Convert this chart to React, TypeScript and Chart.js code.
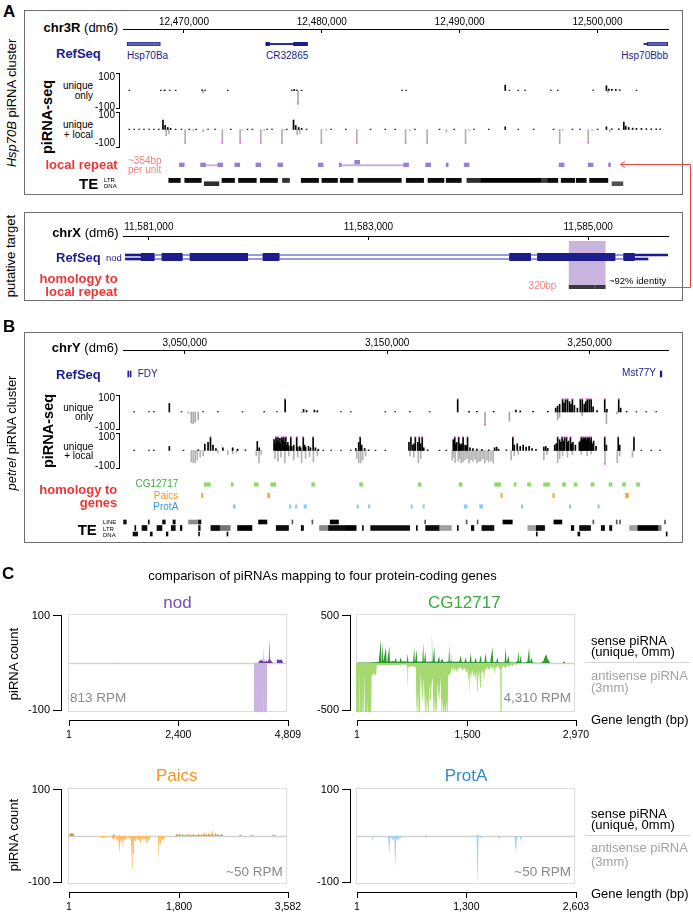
import React, { useEffect, useRef } from 'react';
import { Chart, registerables } from 'chart.js';

Chart.register(...registerables);
const FONT = "'Liberation Sans', Arial, Helvetica, sans-serif";
Chart.defaults.font.family = FONT;

const W = 693;
const NAVY = '#1c1c8c';
const RED = '#ee3535';
const PINK = '#f47f7f';
const MAGENTA = '#e050e0';
const GRAYTXT = '#8a8a8a';

// ================= Panel A : chr3R (positions in kb) =================
const A_RANGE = [12465.58, 12505.12];
const A_TICKS = [12470, 12480, 12490, 12500];
const A_GENE_LINES = [[12475.95, 12477.95], [12503.37, 12503.6]];
const A_GENE_EXONS = [[12475.95, 12476.21], [12477.95, 12478.97]];
const A_GENE_HSP = [[12465.87, 12468.29], [12503.6, 12505.11]];
const TRACK_LIMITS = [-100, 100];

const A_UO_SENSE = [[12465.75,3],[12468.07,3],[12468.36,4],[12468.72,3],[12469.16,3],[12471.11,5],[12471.33,3],[12473.0,3],[12477.71,4],[12477.89,8],[12478.07,4],[12478.44,3],[12485.84,3],[12486.13,3],[12493.43,40],[12493.74,3],[12494.39,3],[12494.9,3],[12496.79,3],[12497.3,3],[12499.9,3],[12500.88,35],[12501.06,10],[12501.28,8],[12501.57,8],[12501.86,5],[12503.09,3]];
const A_UO_ANTI = [[12468.29,-4],[12471.19,-18],[12478.17,-130],[12500.99,-15]];

const A_UL_SENSE = [[12465.75,3],[12466.11,3],[12466.47,3],[12466.83,3],[12467.2,3],[12467.56,3],[12467.92,3],[12468.23,70],[12468.39,30],[12468.58,15],[12468.79,8],[12469.16,3],[12469.59,3],[12470.17,3],[12470.68,3],[12471.55,3],[12472.06,3],[12473.22,3],[12474.45,3],[12474.81,3],[12475.9,3],[12476.26,3],[12477.35,3],[12477.84,70],[12478.0,30],[12478.22,15],[12478.44,8],[12478.8,3],[12480.61,3],[12481.7,3],[12483.51,3],[12484.6,3],[12485.33,3],[12486.78,3],[12488.59,3],[12489.68,3],[12491.13,3],[12492.22,3],[12493.43,20],[12494.39,3],[12495.53,3],[12496.98,3],[12498.38,3],[12498.93,3],[12500.23,3],[12500.88,20],[12501.28,5],[12501.79,5],[12502.16,55],[12502.3,25],[12502.52,15],[12502.81,10],[12503.09,8],[12503.46,8],[12503.82,6],[12504.18,5],[12504.55,5],[12504.84,4]];
const A_UL_ANTI = [[12468.46,-45],[12468.66,-30],[12469.86,-130],[12470.46,-6],[12471.19,-15],[12472.6,-130],[12473.91,-130],[12474.09,-6],[12475.43,-130],[12475.68,-6],[12476.99,-130],[12477.2,-6],[12478.11,-40],[12478.29,-30],[12479.89,-130],[12480.25,-6],[12482.5,-130],[12486.09,-130],[12486.41,-6],[12487.68,-130],[12489.1,-20],[12490.51,-130],[12490.77,-6],[12497.44,-130],[12497.66,-6],[12499.54,-130],[12499.83,-6],[12501.13,-20]];

const A_REPEAT_MAIN = [[12469.67,12470.02],[12471.21,12471.57],[12472.46,12472.81],[12473.69,12474.05],[12475.22,12475.57],[12476.81,12477.16],[12479.75,12480.1],[12481.27,12481.41],[12485.95,12486.3],[12487.54,12487.9],[12489.03,12489.17],[12490.33,12490.69],[12497.22,12497.58],[12499.33,12499.68],[12500.81,12500.95]];
const A_REPEAT_UPPER = [[12482.39,12482.75]];
const A_REPEAT_LINKS = [[12471.57,12472.46],[12481.41,12485.95]];

// TE blocks: [start, end, score]
const A_TE_LTR = [[12468.9,12469.74,950],[12470.06,12471.26,950],[12472.76,12473.67,950],[12473.96,12475.25,950],[12475.54,12476.79,950],[12477.15,12477.66,780],[12478.51,12479.77,950],[12480.01,12481.14,950],[12481.34,12482.28,950],[12482.63,12485.77,950],[12486.13,12487.39,950],[12487.71,12488.87,950],[12489.03,12490.12,950],[12490.53,12491.56,800],[12491.56,12495.92,1000],[12495.92,12496.41,750],[12496.41,12497.13,950],[12497.37,12498.35,950],[12498.46,12499.19,950],[12499.43,12500.76,950]];
const A_TE_DNA = [[12471.48,12472.54,800],[12501.06,12501.85,650]];

// ================= Panel A2 : chrX (bp) =================
const X_RANGE = [11580765, 11585727];
const X_TICKS = [11581000, 11583000, 11585000];
const NOD_T1 = [11580786, 11585727];
const NOD_T2 = [11580786, 11585545];
const NOD_EXONS = [[11580931,11581049],[11581120,11581304],[11581376,11581900],[11582040,11582186],[11584285,11584476],[11584539,11585244],[11585324,11585420]];
const NOD_HOMOLOGY = [[11584827,11585058],[11585067,11585155]];

// ================= Panel B : chrY (kb) =================
const B_RANGE = [3019.48, 3288.75];
const B_TICKS = [3050, 3150, 3250];
const B_GENES = [[3021.85,3022.15],[3023.0,3023.3],[3284.9,3285.7]];

const B_UO_SENSE = [[3023.08,3],[3030.49,3],[3032.96,3],[3040.71,66],[3046.79,3],[3057.65,3],[3065.06,3],[3077.4,3],[3088.27,3],[3094.69,3],[3098.78,130],[3108.02,20],[3109.5,12],[3113.45,15],[3114.93,10],[3126.78,3],[3131.72,3],[3149.0,3],[3153.94,3],[3161.35,3],[3171.23,3],[3185.3,110],[3190.98,5],[3194.93,5],[3203.32,5],[3214.53,15],[3216.65,8],[3223.07,5],[3230.48,5],[3234.43,30],[3235.4,45],[3236.41,60],[3237.89,100],[3238.6,70],[3239.37,100],[3240.36,130],[3241.35,80],[3242.1,60],[3242.83,100],[3243.82,50],[3245.31,30],[3246.79,100],[3247.78,130],[3248.77,60],[3249.5,80],[3250.24,130],[3251.23,130],[3252.22,100],[3253.2,40],[3255.18,10],[3259.03,130],[3260.12,20],[3266.04,110],[3267.03,30],[3270.0,5],[3274.93,3],[3279.87,3],[3284.81,3]];
const B_UO_ANTI = [[3050.25,-10],[3051.73,-85],[3052.72,-90],[3053.7,-80],[3055.18,-60],[3107.03,-5],[3190.98,-5],[3199.01,-130],[3211.23,-70],[3235.42,-60],[3236.41,-40],[3247.78,-30],[3259.87,-90],[3265.05,-15]];

const B_UL_SENSE = [[3023.08,3],[3030.49,3],[3032.96,3],[3040.71,30],[3047.78,3],[3055.18,5],[3058.49,48],[3060.12,60],[3061.35,130],[3062.59,40],[3064.07,15],[3067.53,20],[3072.46,20],[3074.93,10],[3078.88,5],[3084.81,67],[3085.8,20],
[3093.21,80],[3093.7,50],[3094.19,100],[3094.69,70],[3095.18,130],[3095.68,60],[3096.17,90],[3096.66,50],[3097.16,130],[3097.65,80],[3098.15,100],[3098.64,60],[3099.13,130],[3099.62,40],[3100.12,60],[3100.61,35],[3101.6,100],[3102.1,30],[3103.08,40],[3104.56,130],[3105.05,25],[3106.04,30],[3106.54,20],[3107.87,100],[3108.52,40],[3109.01,25],[3110.49,30],[3111.48,20],[3112.81,130],[3113.94,20],[3115.42,10],
[3117.89,3],[3121.85,3],[3126.78,3],[3131.72,3],
[3134.19,15],[3135.67,60],[3136.41,130],[3137.16,40],[3138.64,15],[3140.61,5],[3144.07,3],[3149.0,3],
[3160.86,60],[3161.85,130],[3162.84,40],[3163.4,50],[3164.07,130],[3165.3,60],[3166.04,130],[3166.78,50],[3167.52,130],[3168.27,20],[3170.24,5],[3176.17,3],[3179.62,3],
[3183.08,80],[3183.82,130],[3184.3,50],[3184.81,60],[3185.79,130],[3186.3,50],[3186.78,40],[3187.4,50],[3188.02,130],[3189.0,40],[3189.6,35],[3190.24,100],[3191.47,20],[3192.95,15],[3194.93,10],[3197.4,8],[3200.86,5],[3203.82,20],[3204.81,25],[3205.79,10],[3209.74,5],
[3212.95,130],[3213.69,40],[3215.17,50],[3216.65,30],[3218.13,40],[3219.62,25],[3221.1,30],[3222.58,15],[3224.55,8],[3228.5,25],[3229.49,30],[3230.48,15],
[3233.94,40],[3234.7,50],[3235.42,100],[3236.41,80],[3237.0,60],[3237.64,130],[3238.3,70],[3238.88,100],[3239.87,130],[3240.4,60],[3240.85,70],[3241.84,130],[3242.4,50],[3243.08,60],[3244.31,40],
[3246.29,60],[3246.8,70],[3247.28,100],[3247.8,80],[3248.26,130],[3248.8,90],[3249.25,130],[3249.7,80],[3250.24,130],[3250.7,90],[3251.23,130],[3251.7,70],[3252.22,100],[3252.8,50],[3253.45,70],[3254.69,30],
[3259.03,130],[3259.87,40],[3265.79,130],[3266.53,40],[3273.69,130],[3277.39,3],[3282.33,3],[3286.77,3]];
const B_UL_ANTI = [[3051.73,-85],[3052.72,-91],[3053.7,-90],[3054.69,-70],[3056.17,-50],[3057.65,-40],[3065.06,-20],[3070.0,-30],[3072.46,-25],[3074.44,-15],[3084.32,-40],[3085.65,-92],[3086.79,-30],
[3093.7,-60],[3095.18,-80],[3096.67,-50],[3098.64,-92],[3100.62,-40],[3103.08,-70],[3105.06,-50],[3107.03,-92],[3109.01,-60],[3110.98,-45],[3112.96,-85],[3114.93,-40],
[3134.68,-60],[3135.67,-90],[3136.66,-92],[3137.65,-70],[3139.13,-40],
[3161.35,-40],[3163.33,-50],[3165.55,-92],[3166.78,-60],
[3182.58,-70],[3183.3,-50],[3184.07,-90],[3185.55,-80],[3186.3,-60],[3187.03,-92],[3188.0,-85],[3189.0,-70],[3190.0,-60],[3190.98,-92],[3192.0,-70],[3192.95,-80],[3194.0,-65],[3194.93,-92],[3196.0,-80],[3196.91,-75],[3198.0,-60],[3198.88,-92],[3200.0,-70],[3200.86,-85],[3202.0,-75],[3203.08,-92],
[3212.11,-70],[3213.69,-40],[3215.66,-30],[3228.5,-70],[3229.99,-30],
[3235.42,-90],[3236.41,-60],[3237.89,-40],[3240.36,-50],[3242.83,-30],[3247.28,-30],[3250.24,-40],[3252.22,-25],
[3259.12,-130],[3265.3,-90],[3266.53,-40],[3272.94,-50]];

const B_HOM_CG = [[3059.63,3062.59],[3072.96,3073.95],[3084.31,3086.29],[3092.47,3094.94],[3112.71,3114.19],[3136.41,3137.89],[3165.3,3166.78],[3185.54,3187.02],[3203.07,3206.03],[3212.71,3213.7],[3219.37,3220.85],[3227.27,3230.23],[3236.65,3238.13],[3242.33,3243.81],[3250.73,3252.21],[3259.62,3261.1],[3266.28,3267.76],[3273.2,3274.68]];
const B_HOM_PAICS = [[3058.27,3059.01],[3090.99,3091.98],[3206.16,3206.9],[3231.84,3232.58],[3267.76,3269.24]];
const B_HOM_PROTA = [[3073.95,3074.93],[3101.72,3102.46],[3104.69,3105.43],[3108.88,3110.12],[3135.05,3135.79],[3140.73,3141.47],[3161.72,3162.46],[3167.65,3168.39],[3188.01,3189.49],[3195.67,3197.15],[3216.28,3217.02],[3239.99,3240.73],[3254.06,3254.8]];

const B_TE_LINE = [[3019.78,3021.11,950],[3031.97,3032.46,950],[3039.03,3040.37,950],[3044.17,3045.31,950],[3051.87,3056.81,400],[3056.81,3058.0,950],[3086.44,3090.59,1000],[3102.93,3103.42,600],[3112.81,3113.3,600],[3121.85,3125.95,1000],[3168.51,3169.0,600],[3189.0,3189.5,600],[3194.44,3194.93,600],[3207.18,3211.82,1000],[3232.36,3236.31,1000],[3251.61,3252.1,600],[3263.17,3263.66,600],[3264.8,3265.3,600],[3287.02,3287.51,600]];
const B_TE_LTR = [[3025.31,3025.8,950],[3028.86,3031.33,950],[3036.27,3038.74,950],[3043.33,3045.31,950],[3047.77,3048.61,950],[3056.81,3057.65,950],[3062.93,3067.53,950],[3067.53,3072.46,500],[3076.07,3083.18,1000],[3095.18,3101.25,950],[3107.53,3108.66,950],[3116.56,3121.01,400],[3121.01,3129.75,950],[3129.75,3134.68,1000],[3137.79,3138.28,950],[3141.85,3161.1,950],[3164.41,3164.9,950],[3168.99,3175.92,950],[3175.92,3181.69,300],[3184.65,3185.14,950],[3191.57,3192.86,950],[3196.8,3202.73,950],[3219.52,3223.67,300],[3223.67,3227.77,950],[3240.95,3242.23,950],[3245.05,3250.48,950],[3255.77,3257.4,950],[3259.87,3261.0,950],[3269.74,3273.84,300],[3273.84,3284.06,1000],[3284.06,3285.39,500]];
const B_TE_DNA = [[3024.42,3026.69,950],[3032.96,3033.95,950],[3040.86,3041.7,950],[3056.81,3057.3,950],[3070.84,3071.33,950],[3223.67,3224.16,950],[3244.21,3245.2,950],[3287.85,3288.34,950]];

// ================= Panel C : gene coverage (bp, piRNA count) =================
const NOD_LEN = 4809; const NOD_XTICKS = [1, 2400, 4809];
const NOD_SENSE = [[990,0],[1003,2],[1015,0],[4180,0],[4195,5],[4215,3],[4240,8],[4255,4],[4270,6],[4290,2],[4297,35],[4305,3],[4319,10],[4330,2],[4350,4],[4370,5],[4390,2],[4410,8],[4421,50],[4432,6],[4443,8],[4460,3],[4480,3],[4500,0],[4570,0],[4585,8],[4600,6],[4615,8],[4630,5],[4650,7],[4665,6],[4690,7],[4705,5],[4720,0]];
const NOD_ANTI = [[4080,0],[4088,-150],[4250,-150],[4254,-15],[4260,-150],[4298,-150],[4302,-25],[4307,-150],[4366,-150],[4372,0]];

const CG_LEN = 2970; const CG_XTICKS = [1, 1500, 2970];
const CG_SENSE = [[1,0],[46,5],[136,5],[227,8],[308,10],[339,241],[346,20],[353,40],[362,207],[371,15],[380,15],[407,159],[416,12],[425,15],[452,172],[461,12],[470,15],[497,20],[520,12],[542,52],[553,12],[565,15],[590,12],[610,62],[621,12],[632,15],[669,18],[690,12],[701,97],[712,10],[723,12],[759,12],[775,15],[791,159],[798,15],[804,20],[822,138],[831,15],[840,18],[860,12],[881,15],[900,15],[913,207],[920,15],[926,20],[940,124],[949,12],[958,15],[980,12],[1003,15],[1020,15],[1030,331],[1037,15],[1043,20],[1061,172],[1070,12],[1080,15],[1105,12],[1129,69],[1138,10],[1147,12],[1174,45],[1185,10],[1197,12],[1220,10],[1242,15],[1255,15],[1265,183],[1272,15],[1278,20],[1287,114],[1294,12],[1301,15],[1340,12],[1378,15],[1400,12],[1423,79],[1434,10],[1445,12],[1470,10],[1490,62],[1500,10],[1513,12],[1540,10],[1558,103],[1568,10],[1580,12],[1605,10],[1626,55],[1637,8],[1648,10],[1670,8],[1693,79],[1704,8],[1716,10],[1740,8],[1761,103],[1772,8],[1784,10],[1820,8],[1851,159],[1862,10],[1874,12],[1900,8],[1919,55],[1930,8],[1942,10],[1970,6],[1996,8],[2015,8],[2032,159],[2041,12],[2050,18],[2068,79],[2080,8],[2091,8],[2120,5],[2145,5],[2170,8],[2190,20],[2203,131],[2212,15],[2221,20],[2235,79],[2246,5],[2257,5],[2290,5],[2325,15],[2348,159],[2357,15],[2366,20],[2384,55],[2395,5],[2406,5],[2470,0],[2520,5],[2540,20],[2564,70],[2582,86],[2596,45],[2609,30],[2625,10],[2636,0],[2799,0],[2822,17],[2840,0]];
const CG_ANTI = [[1,0],[4,-600],[30,-600],[33,-300],[37,-600],[46,-600],[50,-50],[60,-600],[80,-600],[84,-250],[88,-600],[105,-600],[114,-80],[123,-600],[150,-600],[155,-350],[160,-600],[204,-600],[213,-128],[240,-110],[272,-128],[285,-20],[542,-20],[678,-15],[696,-40],[701,-266],[710,-40],[791,-30],[813,-50],[822,-600],[830,-300],[838,-600],[845,-250],[852,-600],[867,-600],[876,-100],[890,-250],[903,-400],[921,-150],[930,-350],[940,-600],[950,-300],[962,-600],[972,-350],[985,-600],[994,-200],[1005,-380],[1017,-300],[1030,-180],[1039,-150],[1053,-600],[1062,-320],[1072,-600],[1082,-400],[1093,-600],[1102,-200],[1115,-300],[1129,-386],[1147,-150],[1165,-600],[1177,-350],[1190,-600],[1203,-420],[1215,-600],[1228,-380],[1242,-600],[1251,-128],[1287,-100],[1298,-40],[1310,-80],[1320,-30],[1335,-90],[1355,-50],[1370,-110],[1385,-40],[1400,-70],[1420,-35],[1445,-80],[1470,-45],[1499,-100],[1512,-60],[1526,-200],[1535,-90],[1544,-317],[1553,-80],[1562,-160],[1575,-70],[1590,-145],[1603,-90],[1617,-180],[1630,-70],[1644,-283],[1653,-100],[1662,-150],[1672,-80],[1684,-248],[1695,-90],[1707,-120],[1720,-60],[1738,-179],[1750,-50],[1761,-80],[1780,-40],[1806,-76],[1830,-30],[1851,-60],[1870,-30],[1883,-120],[1895,-40],[1905,-50],[1930,-25],[1951,-80],[1956,-20],[1960,-600],[1969,-600],[1973,-30],[1978,-60],[2000,-25],[2032,-59],[2050,-20],[2077,-40],[2100,-15],[2122,-34],[2145,-10],[2167,-20],[2190,0]];

const PAICS_LEN = 3582; const PAICS_XTICKS = [1, 1800, 3582];
const PAICS_SENSE = [[12,0],[39,5.5],[83,5.5],[105,0],[721,0],[748,3],[775,0],[830,0],[843,2],[857,0],[1756,0],[1784,5.5],[1800,0],[1827,5],[1849,0],[1882,4],[1895,0],[1920,3],[1935,0],[1974,4],[1990,0],[2012,3],[2030,0],[2056,5],[2075,0],[2100,3],[2115,0],[2138,5],[2160,0],[2192,4],[2210,0],[2230,7.6],[2245,0],[2263,4],[2280,0],[2301,6],[2315,0],[2329,4],[2345,0],[2361,12.5],[2372,0],[2383,4],[2400,0],[2416,7.6],[2432,0],[2449,5],[2465,0],[2481,3],[2497,0],[2514,5],[2536,0],[2797,0],[2819,3],[2841,0],[2988,0],[3010,3],[3032,0],[3342,0],[3364,3.5],[3386,0]];
const PAICS_ANTI = [[519,0],[530,-3],[628,-3],[639,0],[710,0],[726,-6],[764,-6],[791,-2],[802,-13],[824,-5],[840,-37],[857,-6],[868,-17],[884,-4],[900,-23],[917,-5],[939,-10],[966,-3],[1010,-4],[1031,-8],[1048,-68],[1058,-10],[1064,-37],[1080,-6],[1102,-13],[1124,-4],[1140,-10],[1162,-5],[1184,-17],[1206,-4],[1238,-8],[1271,-5],[1293,-20],[1315,-4],[1331,-12],[1353,0],[1456,0],[1473,-5],[1484,-54],[1495,-8],[1511,-23],[1527,-4],[1549,-8],[1565,-10],[1587,0]];

const PROTA_LEN = 2603; const PROTA_XTICKS = [1, 1300, 2603];
const PROTA_SENSE = [[824,0],[832,2],[844,0],[1433,0],[1445,2],[1457,0]];
const PROTA_ANTI = [[187,0],[199,-8],[211,0],[381,0],[397,-38],[409,-3],[428,-5],[440,-10],[456,-4],[468,-66],[480,-4],[496,-10],[515,-4],[535,-4],[555,0],[824,0],[832,-2],[844,0],[1433,0],[1445,-100],[1457,-2],[1481,-4],[1504,-2],[1520,0],[1686,0],[1702,-7],[1718,0],[1884,0],[1900,-36],[1916,0],[1943,0],[1959,-11],[1975,0]];

// ================= chart helpers =================
const base = () => ({
  animation: false as const,
  responsive: false,
  maintainAspectRatio: false,
  events: [] as any[],
  plugins: { legend: { display: false }, tooltip: { enabled: false } },
});

const shade = (s: number) => {
  const v = Math.round(230 * (1 - s / 1000));
  return `rgb(${v},${v},${v})`;
};
const fmtKb = (v: any) => Math.round(Number(v) * 1000).toLocaleString('en-US');
const fmtBp = (v: any) => Math.round(Number(v)).toLocaleString('en-US');

function topAxis(range: number[], ticks: number[], fmt: (v: any) => string, pad: number) {
  return {
    type: 'scatter',
    data: { datasets: [] },
    options: {
      ...base(),
      layout: { padding: { left: 40, right: 40, top: 0, bottom: 0 } },
      scales: {
        y: { display: false, min: 0, max: 1 },
        x: {
          type: 'linear', position: 'top', min: range[0], max: range[1],
          afterFit: (s: any) => { s.height = 14; },
          afterBuildTicks: (s: any) => { s.ticks = ticks.map((v) => ({ value: v })); },
          grid: { drawOnChartArea: true, drawTicks: false, color: '#000', lineWidth: 1 },
          border: { display: true, color: '#000', width: 1 },
          ticks: { padding: pad, autoSkip: false, maxRotation: 0, color: '#000', font: { size: 10 }, callback: fmt },
        },
      },
    },
  };
}

function seg(arr: number[][], row: string, color: any, thick: number, extra: any = {}) {
  return {
    data: arr.map((s) => ({ x: [s[0], s[1]], y: row })),
    backgroundColor: color, barThickness: thick, grouped: false, borderSkipped: false,
    borderWidth: 0, minBarLength: 1, ...extra,
  };
}

function rows(labels: string[], range: number[], datasets: any[], pad = 4) {
  return {
    type: 'bar',
    data: { labels, datasets },
    options: {
      ...base(),
      indexAxis: 'y',
      layout: { padding: { top: pad, bottom: pad, left: 0, right: 0 } },
      scales: {
        x: { type: 'linear', min: range[0], max: range[1], display: false },
        y: { type: 'category', display: false },
      },
    },
  };
}

function signal(range: number[], sense: number[][], anti: number[][], cs: string, ca: string) {
  const clipped = [...sense, ...anti].filter((p) => Math.abs(p[1]) >= 100).map((p) => ({ x: p[0], y: p[1] > 0 ? 100 : -100 }));
  return {
    type: 'bar',
    data: {
      datasets: [
        { type: 'scatter', data: clipped, pointStyle: 'rect', pointRadius: 1, backgroundColor: MAGENTA, borderWidth: 0, clip: 3 },
        { data: sense.map((p) => ({ x: p[0], y: p[1] })), backgroundColor: cs, barThickness: 1, grouped: false, borderWidth: 0 },
        { data: anti.map((p) => ({ x: p[0], y: p[1] })), backgroundColor: ca, barThickness: 1, grouped: false, borderWidth: 0 },
      ],
    },
    options: {
      ...base(),
      layout: { padding: 0 },
      scales: {
        x: { type: 'linear', min: range[0], max: range[1], display: false, offset: false },
        y: { min: TRACK_LIMITS[0], max: TRACK_LIMITS[1], display: false },
      },
    },
  };
}

function yAxis(lim: number, width: number, tickLen: number, pad: number, size: number, labels = true) {
  return {
    type: 'scatter',
    data: { datasets: [] },
    options: {
      ...base(),
      layout: { padding: { top: 8, bottom: 8, left: 0, right: 0 } },
      scales: {
        x: { display: false },
        y: {
          min: -lim, max: lim, position: 'left',
          afterFit: (s: any) => { s.width = width; },
          afterBuildTicks: (s: any) => { s.ticks = [{ value: -lim }, { value: lim }]; },
          grid: { drawOnChartArea: false, drawTicks: true, tickLength: tickLen, color: '#000', lineWidth: 1 },
          border: { display: true, color: '#000', width: 1 },
          ticks: { display: labels, padding: pad, color: '#000', font: { size } },
        },
      },
    },
  };
}

function bottomAxis(len: number, ticks: number[]) {
  return {
    type: 'scatter',
    data: { datasets: [] },
    options: {
      ...base(),
      layout: { padding: { left: 20, right: 20, top: 0, bottom: 0 } },
      scales: {
        y: { display: false, min: 0, max: 1 },
        x: {
          type: 'linear', position: 'bottom', min: 1, max: len,
          afterFit: (s: any) => { s.height = 24; },
          afterBuildTicks: (s: any) => { s.ticks = ticks.map((v) => ({ value: v })); },
          grid: { drawOnChartArea: false, drawTicks: true, tickLength: 6, color: '#000', lineWidth: 1 },
          border: { display: true, color: '#000', width: 1 },
          ticks: { padding: 3, autoSkip: false, maxRotation: 0, color: '#000', font: { size: 10.5 }, callback: fmtBp },
        },
      },
    },
  };
}

const boxPlugin = {
  id: 'box',
  beforeDatasetsDraw(chart: any) {
    const { ctx, chartArea: a, scales } = chart;
    ctx.save();
    ctx.strokeStyle = '#dcdcdc';
    ctx.lineWidth = 1;
    ctx.strokeRect(a.left + 0.5, a.top + 0.5, a.width - 1, a.height - 1);
    const y0 = Math.round(scales.y.getPixelForValue(0)) + 0.5;
    ctx.strokeStyle = '#d2d2d2';
    ctx.lineWidth = 1.5;
    ctx.beginPath();
    ctx.moveTo(a.left, y0);
    ctx.lineTo(a.right, y0);
    ctx.stroke();
    ctx.restore();
  },
};

function coverage(len: number, lim: number, sense: number[][], anti: number[][], cs: string, ca: string) {
  const ds = (arr: number[][], c: string) => ({
    data: arr.map((p) => ({ x: p[0], y: p[1] })),
    fill: 'origin', backgroundColor: c, borderColor: 'rgba(0,0,0,0)', borderWidth: 1, pointRadius: 0, tension: 0,
  });
  return {
    type: 'line',
    data: { datasets: [ds(sense, cs), ds(anti, ca)] },
    options: {
      ...base(),
      layout: { padding: 0 },
      scales: {
        x: { type: 'linear', min: 1, max: len, display: false },
        y: { min: -lim, max: lim, display: false },
      },
    },
    plugins: [boxPlugin],
  };
}

function ChartBox({ x, y, w, h, make }: { x: number; y: number; w: number; h: number; make: () => any }) {
  const ref = useRef<HTMLCanvasElement | null>(null);
  useEffect(() => {
    if (!ref.current) return;
    const c = new Chart(ref.current, make());
    return () => c.destroy();
  }, []);
  return <canvas ref={ref} width={w} height={h} style={{ position: 'absolute', left: x, top: y, width: w, height: h }} />;
}

function T({ x, y, s = 10, a = 'l', w = 400, c = '#000', children }: any) {
  const st: any = {
    position: 'absolute', top: y, fontSize: s, fontWeight: w, color: c, lineHeight: 1,
    whiteSpace: 'nowrap', transform: 'translateY(-50%)', fontFamily: FONT,
  };
  if (a === 'l') st.left = x;
  else if (a === 'r') st.right = W - x;
  else { st.left = x; st.transform = 'translate(-50%,-50%)'; }
  return <div style={st}>{children}</div>;
}

function R({ x, y, s = 13, w = 400, c = '#000', children }: any) {
  return (
    <div style={{
      position: 'absolute', left: x, top: y, fontSize: s, fontWeight: w, color: c, lineHeight: 1,
      whiteSpace: 'nowrap', transform: 'translate(-50%,-50%) rotate(-90deg)', fontFamily: FONT,
    }}>{children}</div>
  );
}

const Box = ({ x, y, w, h }: any) => (
  <div style={{ position: 'absolute', left: x, top: y, width: w, height: h, border: '1px solid #6e6e6e', boxSizing: 'border-box' }} />
);
const HLine = ({ x, y, w }: any) => (
  <div style={{ position: 'absolute', left: x, top: y, width: w, height: 0, borderTop: '1.5px solid #d6d6d6' }} />
);

const GX = 123; const GW = 545;
const hi = String(TRACK_LIMITS[1]);
const lo = String(TRACK_LIMITS[0]);

export default function App() {
  const nodIntron = [NOD_EXONS[0][0], NOD_EXONS[NOD_EXONS.length - 1][1]];
  const hl = [NOD_HOMOLOGY[0][0], NOD_HOMOLOGY[NOD_HOMOLOGY.length - 1][1]];
  return (
    <div style={{ position: 'absolute', left: 0, top: 0, width: 693, height: 917, background: '#fff', overflow: 'hidden', fontFamily: FONT }}>
      {/* ===== Panel A ===== */}
      <T x={3} y={11} s={17} w={700}>A</T>
      <Box x={24} y={10} w={659} h={185} />
      <R x={11} y={103} s={13}><i>Hsp70B</i> piRNA cluster</R>
      <T x={118} y={27} s={13} a="r"><b>chr3R</b> (dm6)</T>
      <ChartBox x={GX - 40} y={15} w={GW + 80} h={18} make={() => topAxis(A_RANGE, A_TICKS, fmtKb, 1)} />
      <T x={56} y={52.7} s={13} w={700} c={NAVY}>RefSeq</T>
      <ChartBox x={GX} y={38} w={GW} h={12} make={() => rows(['g'], A_RANGE, [
        seg(A_GENE_EXONS, 'g', NAVY, 4.5),
        seg(A_GENE_HSP, 'g', '#6262b8', 4.5, { borderWidth: 1, borderColor: NAVY }),
        seg(A_GENE_LINES, 'g', NAVY, 1.2),
      ])} />
      <T x={127} y={56} s={10} c={NAVY}>Hsp70Ba</T>
      <T x={266} y={56} s={10} c={NAVY}>CR32865</T>
      <T x={668} y={56} s={10} a="r" c={NAVY}>Hsp70Bbb</T>
      <R x={47} y={117} s={14.5} w={700}>piRNA-seq</R>
      <T x={93} y={86} a="r">unique</T>
      <T x={93} y={96} a="r">only</T>
      <T x={93} y={124.5} a="r">unique</T>
      <T x={93} y={134.5} a="r">+ local</T>
      <ChartBox x={79} y={65} w={41} h={51} make={() => yAxis(100, 40, 3, 1, 10, false)} />
      <ChartBox x={79} y={104} w={41} h={51} make={() => yAxis(100, 40, 3, 1, 10, false)} />
      <T x={115} y={77.3} a="r">{hi}</T>
      <T x={115} y={106.8} a="r">{lo}</T>
      <T x={115} y={115} a="r">{hi}</T>
      <T x={115} y={143} a="r">{lo}</T>
      <ChartBox x={GX} y={73} w={GW} h={35} make={() => signal(A_RANGE, A_UO_SENSE, A_UO_ANTI, '#000', '#a8a8a8')} />
      <ChartBox x={GX} y={112} w={GW} h={35} make={() => signal(A_RANGE, A_UL_SENSE, A_UL_ANTI, '#000', '#b0b0b0')} />
      <T x={117.7} y={164} s={13} w={700} a="r" c={RED}>local repeat</T>
      <T x={128} y={161} s={10} c={PINK}>~354bp</T>
      <T x={128} y={169.5} s={10} c={PINK}>per unit</T>
      <ChartBox x={GX} y={156} w={GW} h={15} make={() => rows(['upper', 'main'], A_RANGE, [
        seg(A_REPEAT_MAIN, 'main', '#9a7fd0', 4.5),
        seg(A_REPEAT_UPPER, 'upper', '#9a7fd0', 4.5),
        seg(A_REPEAT_LINKS, 'main', '#c4b2e6', 1.2),
      ])} />
      <T x={79} y={182.7} s={15} w={700}>TE</T>
      <T x={104} y={179.5} s={6}>LTR</T>
      <T x={104} y={186} s={6}>DNA</T>
      <ChartBox x={GX} y={174} w={GW} h={16} make={() => rows(['LTR', 'DNA'], A_RANGE, [
        seg(A_TE_LTR, 'LTR', A_TE_LTR.map((s) => shade(s[2])), 5),
        seg(A_TE_DNA, 'DNA', A_TE_DNA.map((s) => shade(s[2])), 4.5),
      ])} />

      {/* ===== Panel A2 : chrX ===== */}
      <Box x={24} y={212} w={659} h={89} />
      <R x={10} y={256} s={13}>putative target</R>
      <T x={118.6} y={231.7} s={13} a="r"><b>chrX</b> (dm6)</T>
      <ChartBox x={GX - 40} y={222} w={GW + 80} h={18} make={() => topAxis(X_RANGE, X_TICKS, fmtBp, 2.5)} />
      <ChartBox x={GX} y={241} w={GW} h={48} make={() => rows(['hl'], X_RANGE, [
        { ...seg([hl], 'hl', '#c9b4de', 48), barThickness: undefined, barPercentage: 1, categoryPercentage: 1 },
      ], 0)} />
      <T x={56} y={256.7} s={13} w={700} c={NAVY}>RefSeq</T>
      <T x={106} y={257.7} s={9.5} c={NAVY}>nod</T>
      <ChartBox x={GX} y={249} w={GW} h={16} make={() => rows(['t1', 't2'], X_RANGE, [
        seg(NOD_EXONS, 't1', NAVY, 5.5),
        seg(NOD_EXONS, 't2', NAVY, 5.5),
        seg([[NOD_T1[0], nodIntron[0]], [nodIntron[1], NOD_T1[1]]], 't1', NAVY, 2),
        seg([[NOD_T2[0], nodIntron[0]], [nodIntron[1], NOD_T2[1]]], 't2', NAVY, 2),
        seg([nodIntron], 't1', '#9a9ad4', 1.5),
        seg([nodIntron], 't2', '#9a9ad4', 1.5),
      ])} />
      <ChartBox x={GX} y={281} w={GW} h={12} make={() => rows(['h'], X_RANGE, [seg(NOD_HOMOLOGY, 'h', '#3a3a3a', 4)])} />
      <T x={117.6} y={278.3} s={13} w={700} a="r" c={RED}>homology to</T>
      <T x={117.6} y={290.7} s={13} w={700} a="r" c={RED}>local repeat</T>
      <T x={528.6} y={285.7} s={10} c={PINK}>320bp</T>
      <T x={609} y={280.7} s={9.5}>~92% identity</T>

      {/* connector */}
      <svg width={693} height={917} style={{ position: 'absolute', left: 0, top: 0, pointerEvents: 'none' }}>
        <polyline points="621,164.5 690.5,164.5 690.5,287.5 620,287.5" fill="none" stroke="#e8473d" strokeWidth={1} />
        <polyline points="625,161.5 620.5,164.5 625,167.5" fill="none" stroke="#e8473d" strokeWidth={1} />
      </svg>

      {/* ===== Panel B ===== */}
      <T x={3} y={326} s={17} w={700}>B</T>
      <Box x={24} y={332} w={659} h={211} />
      <R x={10.5} y={433} s={13}><i>petrel</i> piRNA cluster</R>
      <T x={118.3} y={347.3} s={13} a="r"><b>chrY</b> (dm6)</T>
      <ChartBox x={GX - 40} y={336} w={GW + 80} h={18} make={() => topAxis(B_RANGE, B_TICKS, fmtKb, 1)} />
      <T x={56} y={374} s={13} w={700} c={NAVY}>RefSeq</T>
      <ChartBox x={GX} y={366} w={GW} h={16} make={() => rows(['g'], B_RANGE, [seg(B_GENES, 'g', NAVY, 6)])} />
      <T x={137.7} y={374} s={10} c={NAVY}>FDY</T>
      <T x={656} y={373.3} s={10} a="r" c={NAVY}>Mst77Y</T>
      <R x={48} y={431} s={14.5} w={700}>piRNA-seq</R>
      <T x={93.3} y={407.7} a="r">unique</T>
      <T x={93.3} y={417.3} a="r">only</T>
      <T x={93.3} y={446.7} a="r">unique</T>
      <T x={93.3} y={456} a="r">+ local</T>
      <ChartBox x={79} y={387} w={41} h={50} make={() => yAxis(100, 40, 3, 1, 10, false)} />
      <ChartBox x={79} y={425} w={41} h={51} make={() => yAxis(100, 40, 3, 1, 10, false)} />
      <T x={115} y={398} a="r">{hi}</T>
      <T x={115} y={426.5} a="r">{lo}</T>
      <T x={115} y={436.5} a="r">{hi}</T>
      <T x={115} y={465.5} a="r">{lo}</T>
      <ChartBox x={GX} y={395} w={GW} h={34} make={() => signal(B_RANGE, B_UO_SENSE, B_UO_ANTI, '#000', '#a8a8a8')} />
      <ChartBox x={GX} y={433} w={GW} h={35} make={() => signal(B_RANGE, B_UL_SENSE, B_UL_ANTI, '#000', '#b3b3b3')} />
      <T x={117.3} y={489} s={13} w={700} a="r" c={RED}>homology to</T>
      <T x={117.3} y={501.7} s={13} w={700} a="r" c={RED}>genes</T>
      <T x={178.3} y={484.3} s={10} a="r" c="#3fae3f">CG12717</T>
      <T x={178.3} y={495.7} s={10} a="r" c="#f7941d">Paics</T>
      <T x={178.3} y={506.7} s={10} a="r" c="#3e94d1">ProtA</T>
      <ChartBox x={GX} y={475} w={GW} h={41} make={() => rows(['CG12717', 'Paics', 'ProtA'], B_RANGE, [
        seg(B_HOM_CG, 'CG12717', '#8fd865', 3.5),
        seg(B_HOM_PAICS, 'Paics', '#f8a840', 4.5),
        seg(B_HOM_PROTA, 'ProtA', '#92cbea', 3.5),
      ])} />
      <T x={77.7} y={529.3} s={15} w={700}>TE</T>
      <T x={103} y={521.7} s={6}>LINE</T>
      <T x={103} y={528.7} s={6}>LTR</T>
      <T x={103} y={535} s={6}>DNA</T>
      <ChartBox x={GX} y={515} w={GW} h={26} make={() => rows(['LINE', 'LTR', 'DNA'], B_RANGE, [
        seg(B_TE_LINE, 'LINE', B_TE_LINE.map((s) => shade(s[2])), 4),
        seg(B_TE_LTR, 'LTR', B_TE_LTR.map((s) => shade(s[2])), 5),
        seg(B_TE_DNA, 'DNA', B_TE_DNA.map((s) => shade(s[2])), 4),
      ])} />

      {/* ===== Panel C ===== */}
      <T x={2} y={572.5} s={17} w={700}>C</T>
      <T x={322.5} y={575} s={13} a="c">comparison of piRNAs mapping to four protein-coding genes</T>

      <T x={177.5} y={601.7} s={17} a="c" c="#7b4db3">nod</T>
      <T x={464.3} y={601.7} s={17} a="c" c="#3aaa3a">CG12717</T>
      <T x={176.7} y={775} s={17} a="c" c="#f7941d">Paics</T>
      <T x={466} y={775} s={17} a="c" c="#2f8ccb">ProtA</T>
      <R x={13} y={664} s={13}>piRNA count</R>
      <R x={13} y={835} s={13}>piRNA count</R>

      <ChartBox x={16} y={606} w={46} h={114} make={() => yAxis(100, 45, 8, 3, 11)} />
      <ChartBox x={305} y={606} w={46} h={114} make={() => yAxis(500, 45, 8, 3, 11)} />
      <ChartBox x={16} y={780} w={46} h={112} make={() => yAxis(100, 45, 8, 3, 11)} />
      <ChartBox x={305} y={780} w={46} h={112} make={() => yAxis(100, 45, 8, 3, 11)} />

      <ChartBox x={68} y={614} w={219} h={98} make={() => coverage(NOD_LEN, 100, NOD_SENSE, NOD_ANTI, '#6a3d9e', '#c9b5e0')} />
      <ChartBox x={356} y={614} w={219} h={98} make={() => coverage(CG_LEN, 500, CG_SENSE, CG_ANTI, '#2f9a33', '#a5d96f')} />
      <ChartBox x={68} y={788} w={219} h={96} make={() => coverage(PAICS_LEN, 100, PAICS_SENSE, PAICS_ANTI, '#f28c1c', '#fbbd6a')} />
      <ChartBox x={356} y={788} w={219} h={96} make={() => coverage(PROTA_LEN, 100, PROTA_SENSE, PROTA_ANTI, '#2f8ccb', '#a7d2ea')} />

      <ChartBox x={49} y={719} w={259} h={25} make={() => bottomAxis(NOD_LEN, NOD_XTICKS)} />
      <ChartBox x={337} y={719} w={259} h={25} make={() => bottomAxis(CG_LEN, CG_XTICKS)} />
      <ChartBox x={49} y={891} w={259} h={25} make={() => bottomAxis(PAICS_LEN, PAICS_XTICKS)} />
      <ChartBox x={337} y={891} w={259} h={25} make={() => bottomAxis(PROTA_LEN, PROTA_XTICKS)} />

      <T x={70} y={697.7} s={13.5} c={GRAYTXT}>813 RPM</T>
      <T x={571} y={697.7} s={13.5} a="r" c={GRAYTXT}>4,310 RPM</T>
      <T x={282.7} y={871.7} s={13.5} a="r" c={GRAYTXT}>~50 RPM</T>
      <T x={571} y={871.7} s={13.5} a="r" c={GRAYTXT}>~50 RPM</T>

      <T x={591} y={640} s={13}>sense piRNA</T>
      <T x={591} y={651} s={13}>(unique, 0mm)</T>
      <HLine x={585} y={662} w={105} />
      <T x={591} y={675} s={13} c="#a3a3a3">antisense piRNA</T>
      <T x={591} y={686.7} s={13} c="#a3a3a3">(3mm)</T>
      <T x={591} y={719.3} s={13}>Gene length (bp)</T>

      <T x={591} y={812.7} s={13}>sense piRNA</T>
      <T x={591} y={823.5} s={13}>(unique, 0mm)</T>
      <HLine x={585} y={834.5} w={105} />
      <T x={591} y={847.3} s={13} c="#a3a3a3">antisense piRNA</T>
      <T x={591} y={860.5} s={13} c="#a3a3a3">(3mm)</T>
      <T x={591} y={892.7} s={13}>Gene length (bp)</T>
    </div>
  );
}
